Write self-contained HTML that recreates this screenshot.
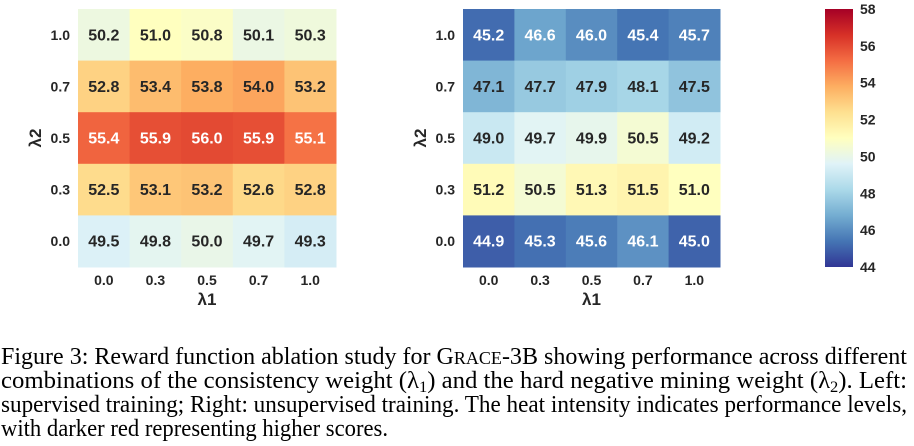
<!DOCTYPE html>
<html><head><meta charset="utf-8"><style>
body{margin:0;background:#fff;width:914px;height:446px;overflow:hidden}
svg{display:block}
</style></head><body>
<svg id="fig" width="914" height="446" viewBox="0 0 914 446" xmlns="http://www.w3.org/2000/svg" font-family="Liberation Sans, Arial, sans-serif">
<defs>
<linearGradient id="cbg" x1="0" y1="1" x2="0" y2="0">
<stop offset="0" stop-color="#313695"/><stop offset="0.1" stop-color="#4575b4"/><stop offset="0.2" stop-color="#74add1"/><stop offset="0.3" stop-color="#abd9e9"/><stop offset="0.4" stop-color="#e0f3f8"/><stop offset="0.5" stop-color="#ffffbf"/><stop offset="0.6" stop-color="#fee090"/><stop offset="0.7" stop-color="#fdae61"/><stop offset="0.8" stop-color="#f46d43"/><stop offset="0.9" stop-color="#d73027"/><stop offset="1" stop-color="#a50026"/>
</linearGradient>
</defs>
<g id="left"></g>
<g id="right"></g>
<g id="cbar">
<rect x="825" y="9" width="28" height="258" fill="url(#cbg)"/>
</g>
<g font-family="Liberation Serif, Times New Roman, serif" font-size="24" fill="#000">
<text x="1" y="364" textLength="906" lengthAdjust="spacingAndGlyphs">Figure 3: Reward function ablation study for G<tspan font-size="18">RACE</tspan>-3B showing performance across different</text>
<text x="1" y="388" textLength="906" lengthAdjust="spacingAndGlyphs">combinations of the consistency weight (λ<tspan font-size="16" dy="4">1</tspan><tspan dy="-4">) and the hard negative mining weight (λ</tspan><tspan font-size="16" dy="4">2</tspan><tspan dy="-4">).  Left:</tspan></text>
<text x="1" y="412" textLength="906" lengthAdjust="spacingAndGlyphs">supervised training; Right: unsupervised training. The heat intensity indicates performance levels,</text>
<text x="1" y="436" textLength="387" lengthAdjust="spacingAndGlyphs">with darker red representing higher scores.</text>
</g>
</svg>
<script>
const lambda1Labels = ["0.0","0.3","0.5","0.7","1.0"];
const lambda2Labels = ["1.0","0.7","0.5","0.3","0.0"];
const supervised = [
 [50.2,51.0,50.8,50.1,50.3],
 [52.8,53.4,53.8,54.0,53.2],
 [55.4,55.9,56.0,55.9,55.1],
 [52.5,53.1,53.2,52.6,52.8],
 [49.5,49.8,50.0,49.7,49.3]];
const unsupervised = [
 [45.2,46.6,46.0,45.4,45.7],
 [47.1,47.7,47.9,48.1,47.5],
 [49.0,49.7,49.9,50.5,49.2],
 [51.2,50.5,51.3,51.5,51.0],
 [44.9,45.3,45.6,46.1,45.0]];
const cbTicks = [44,46,48,50,52,54,56,58];
const vmin=44, vmax=58;
const stops=["#313695","#4575b4","#74add1","#abd9e9","#e0f3f8","#ffffbf","#fee090","#fdae61","#f46d43","#d73027","#a50026"];
function hex(h){return [1,3,5].map(i=>parseInt(h.substr(i,2),16));}
function cmap(v){let t=Math.max(0,Math.min(1,(v-vmin)/(vmax-vmin)))*10;let i=Math.min(9,Math.floor(t));let f=t-i;let a=hex(stops[i]),b=hex(stops[i+1]);return a.map((c,k)=>Math.round(c+(b[k]-c)*f));}
function lum(c){const l=c.map(x=>{x/=255;return x<=0.03928?x/12.92:Math.pow((x+0.055)/1.055,2.4)});return 0.2126*l[0]+0.7152*l[1]+0.0722*l[2];}
const NS="http://www.w3.org/2000/svg";
function mk(tag,attrs,parent){const e=document.createElementNS(NS,tag);for(const k in attrs)e.setAttribute(k,attrs[k]);parent.appendChild(e);return e;}
const y0=9,y1=267;
function draw(gid,data,x0,x1,prefix){
 const g=document.getElementById(gid);
 const cw=(x1-x0)/lambda1Labels.length, ch=(y1-y0)/lambda2Labels.length;
 data.forEach((row,r)=>row.forEach((v,c)=>{
  const col=cmap(v);
  const rect=mk('rect',{x:x0+c*cw,y:y0+r*ch,width:cw+0.5,height:ch+0.5,fill:`rgb(${col})`},g);
  
  
  const t=mk('text',{x:x0+(c+0.5)*cw,y:y0+(r+0.5)*ch+5.5,'text-anchor':'middle','font-size':'16','font-weight':'bold',fill:lum(col)>0.408?'#262626':'#ffffff'},g);
  t.textContent=v.toFixed(1);
  
  
 }));
 lambda1Labels.forEach((l,i)=>{const t=mk('text',{x:x0+(i+0.5)*cw,y:285,'text-anchor':'middle','font-size':'14','font-weight':'bold',fill:'#262626'},g);t.textContent=l;
  
  });
 lambda2Labels.forEach((l,i)=>{const t=mk('text',{x:x0-8,y:y0+(i+0.5)*ch+5,'text-anchor':'end','font-size':'14','font-weight':'bold',fill:'#262626'},g);t.textContent=l;
  
  });
 const xl=mk('text',{x:(x0+x1)/2,y:305,'text-anchor':'middle','font-size':'17','font-weight':'bold',fill:'#262626'},g);xl.textContent='λ1';
 
 
 const yl=mk('text',{x:0,y:0,'text-anchor':'middle','font-size':'17','font-weight':'bold',fill:'#262626',transform:`translate(${x0-37},${(y0+y1)/2}) rotate(-90)`},g);yl.textContent='λ2';
 
 
}
draw('left',supervised,78,336,'supervised');
draw('right',unsupervised,463,720,'unsupervised');
const cb=document.getElementById('cbar');
cbTicks.forEach(v=>{const y=y1-(v-vmin)/(vmax-vmin)*(y1-y0);
 const t=mk('text',{x:860,y:y+5,'font-size':'14','font-weight':'bold',fill:'#262626'},cb);t.textContent=v;
 
 });
</script>
</body></html>
